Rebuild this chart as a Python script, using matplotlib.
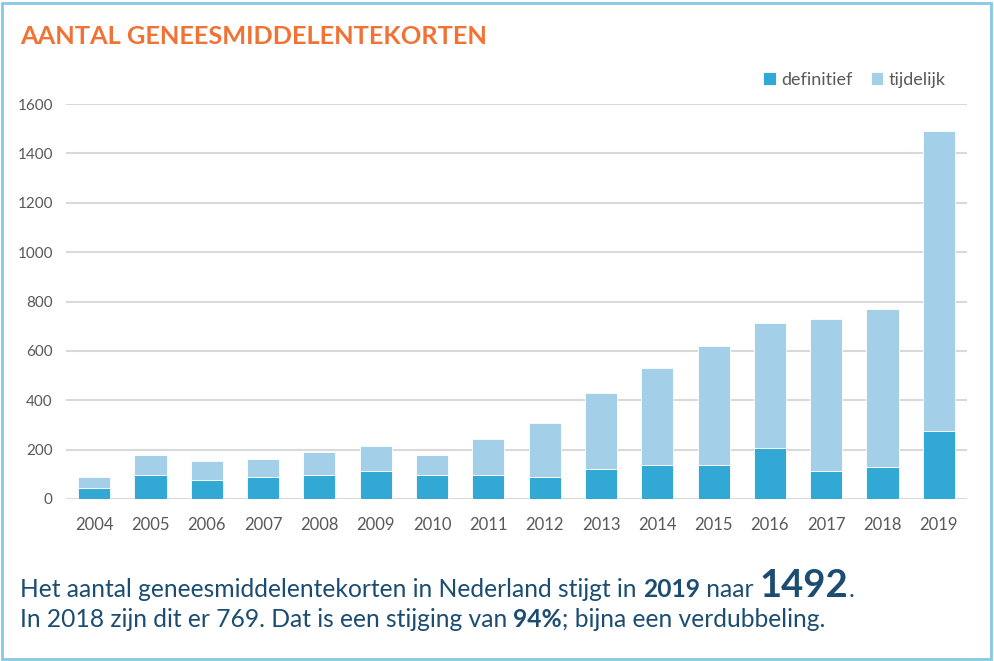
import matplotlib
matplotlib.use("Agg")
import matplotlib.pyplot as plt
from matplotlib.patches import Rectangle
import numpy as np

# Data
years = ["2004", "2005", "2006", "2007", "2008", "2009", "2010", "2011",
         "2012", "2013", "2014", "2015", "2016", "2017", "2018", "2019"]
definitief = [46, 97, 76, 90, 97, 114, 97, 97, 88, 121, 137, 137, 206, 114, 129, 276]
totaal = [91, 178, 153, 162, 191, 215, 178, 244, 306, 431, 529, 621, 713, 729, 769, 1492]
tijdelijk = [t - d for t, d in zip(totaal, definitief)]
yticks = [0, 200, 400, 600, 800, 1000, 1200, 1400, 1600]

COL_DEF = "#31a9d4"
COL_TIJD = "#a4cfe8"
COL_TITLE = "#f07234"
COL_TEXT = "#1b4d72"
COL_TICK = "#595959"

plt.rcParams["font.family"] = ["Lato", "DejaVu Sans"]

fig = plt.figure(figsize=(9.95, 6.61), dpi=100)
ax = fig.add_axes([66 / 995, 1 - 499 / 661, 901 / 995, 395 / 661])

x = np.arange(len(years))
ax.bar(x, definitief, width=0.57, color=COL_DEF, edgecolor="white", linewidth=0.6,
       label="definitief", zorder=3)
ax.bar(x, tijdelijk, width=0.57, bottom=definitief, color=COL_TIJD, edgecolor="white",
       linewidth=0.6, label="tijdelijk", zorder=3)

ax.set_xlim(-0.5, len(years) - 0.5)
ax.set_ylim(0, 1600)
ax.set_yticks(yticks)
ax.set_xticks(x)
ax.set_xticklabels(years)
ax.grid(axis="y", color="#d9d9d9", linewidth=1.5, zorder=0)
ax.set_axisbelow(True)
for s in ax.spines.values():
    s.set_visible(False)
ax.tick_params(axis="both", length=0, colors=COL_TICK)
ax.tick_params(axis="y", pad=9.5, labelsize=11)
ax.tick_params(axis="x", pad=13, labelsize=12)
ax.set_facecolor("none")

ax.legend(loc="center right", bbox_to_anchor=(962 / 995, 1 - 80 / 661),
          bbox_transform=fig.transFigure, ncol=2, frameon=False, fontsize=13,
          handlelength=0.7, handleheight=0.7, handletextpad=0.3,
          columnspacing=1.0, labelcolor=COL_TICK)

# outer border
fig.patches.append(Rectangle((2 / 995, 2 / 661), 989 / 995, 656 / 661,
                             transform=fig.transFigure, fill=False,
                             edgecolor="#86c9e4", linewidth=2))

fig.text(20 / 995, 1 - 36 / 661, "AANTAL GENEESMIDDELENTEKORTEN", color=COL_TITLE,
         fontsize=18.3, fontweight="bold", va="center", ha="left")

# bottom text, built from segments so bold parts line up
renderer = fig.canvas.get_renderer()


def write_line(segments, x0, y0):
    xpos = x0
    for txt, size, weight in segments:
        t = fig.text(xpos / 995, 1 - y0 / 661, txt, color=COL_TEXT, fontsize=size,
                     fontweight=weight, va="baseline", ha="left")
        bb = t.get_window_extent(renderer=renderer)
        xpos += bb.width


write_line([("Het aantal geneesmiddelentekorten in Nederland stijgt in ", 17.75, "normal"),
            ("2019", 17.75, "bold"),
            (" naar ", 17.75, "normal"),
            ("1492", 27.5, "bold"),
            (".", 17.75, "normal")], 20, 597)
write_line([("In 2018 zijn dit er 769. Dat is een stijging van ", 17.75, "normal"),
            ("94%", 17.75, "bold"),
            ("; bijna een verdubbeling.", 17.75, "normal")], 20, 627)

fig.savefig("out.png", dpi=100)
